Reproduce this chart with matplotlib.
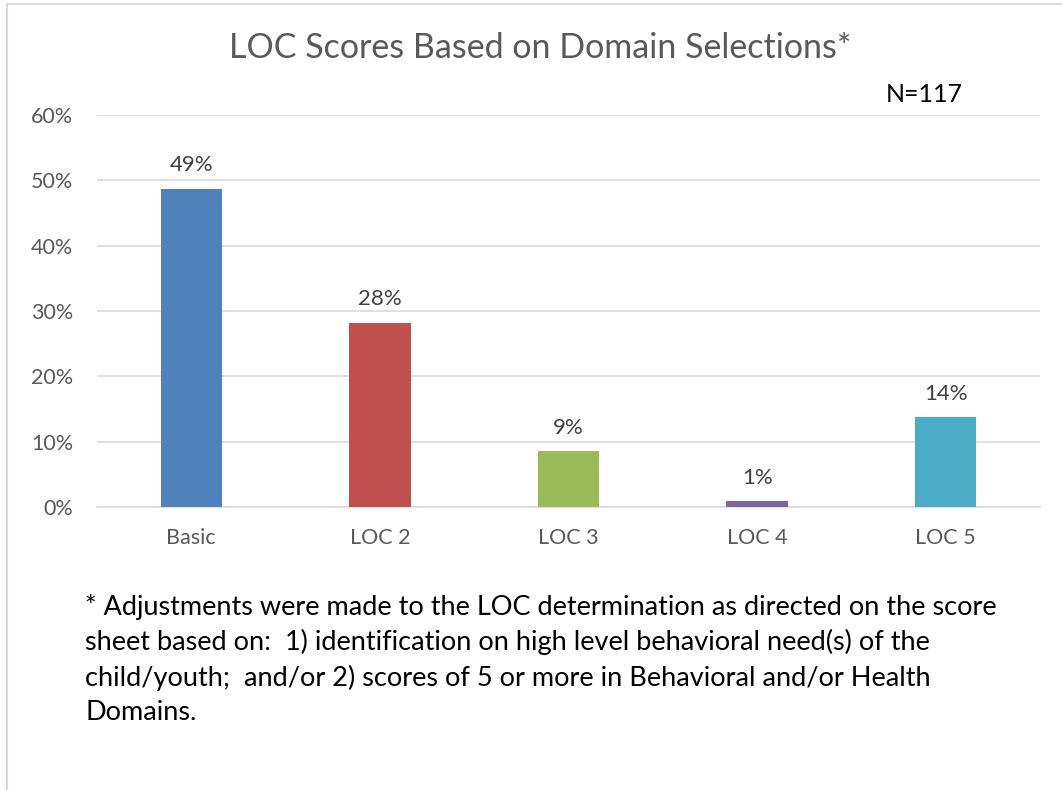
import matplotlib
matplotlib.use("Agg")
import matplotlib.pyplot as plt
from matplotlib.lines import Line2D

categories = ["Basic", "LOC 2", "LOC 3", "LOC 4", "LOC 5"]
values = [48.7, 28.2, 8.5, 0.85, 13.7]
labels = ["49%", "28%", "9%", "1%", "14%"]
colors = ["#4F81BD", "#C0504D", "#9BBB59", "#8064A2", "#4BACC6"]
yticks = [0, 10, 20, 30, 40, 50, 60]
ytick_labels = ["0%", "10%", "20%", "30%", "40%", "50%", "60%"]
title = "LOC Scores Based on Domain Selections*"
n_label = "N=117"
footnote = ("* Adjustments were made to the LOC determination as directed on the score\n"
            "sheet based on:  1) identification on high level behavioral need(s) of the\n"
            "child/youth;  and/or 2) scores of 5 or more in Behavioral and/or Health\n"
            "Domains.")

plt.rcParams['font.family'] = ['Lato', 'DejaVu Sans']

W, H = 1062, 790
fig = plt.figure(figsize=(W / 100, H / 100), dpi=100)
fig.patch.set_facecolor("white")

# outer frame lines
fig.add_artist(Line2D([7 / W, 7 / W], [0, 1 - 4 / H], transform=fig.transFigure,
                      color="#D9D9D9", lw=1.5))
fig.add_artist(Line2D([7 / W, 1], [1 - 4 / H, 1 - 4 / H], transform=fig.transFigure,
                      color="#D9D9D9", lw=1.5))

ax = fig.add_axes([97 / W, 1 - 507 / H, (1040 - 97) / W, (507 - 115) / H])
x = list(range(len(categories)))
bars = ax.bar(x, values, width=0.325, color=colors, zorder=3)
for xi, v, lab in zip(x, values, labels):
    ax.annotate(lab, (xi, v), xytext=(0, 10), textcoords="offset points",
                ha="center", va="bottom", fontsize=16, color="#404040")

ax.set_xlim(-0.5, len(categories) - 0.5)
ax.set_ylim(0, 60)
ax.set_yticks(yticks)
ax.set_yticklabels(ytick_labels)
ax.set_xticks(x)
ax.set_xticklabels(categories)
ax.tick_params(axis="both", length=0, labelsize=15.5, labelcolor="#595959")
ax.tick_params(axis="y", pad=17)
ax.tick_params(axis="x", pad=15)
ax.grid(axis="y", color="#D9D9D9", lw=1.2, zorder=0)
for s in ["top", "right", "left"]:
    ax.spines[s].set_visible(False)
ax.spines["bottom"].set_color("#D9D9D9")
ax.spines["bottom"].set_linewidth(1.2)

fig.text(540 / W, 1 - 48 / H, title, ha="center", va="center", fontsize=24.5, color="#595959")
fig.text(924 / W, 1 - 95 / H, n_label, ha="center", va="center", fontsize=18, color="black")
fig.text(85 / W, 1 - 594 / H, footnote, ha="left", va="top", fontsize=19.5, color="black",
         linespacing=1.44)

fig.savefig("out.png", dpi=100)
